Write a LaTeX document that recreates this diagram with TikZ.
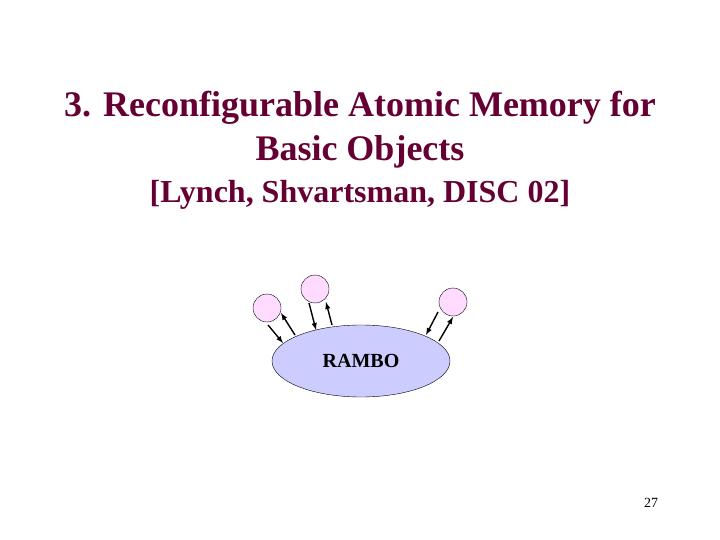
\documentclass[tikz,border=0pt]{standalone}
\usepackage{fontspec}
\usetikzlibrary{shapes.geometric}
\setmainfont{Liberation Serif}
\definecolor{titlec}{RGB}{102,0,51}
\definecolor{pinkc}{RGB}{255,220,255}
\definecolor{bluec}{RGB}{204,204,255}
\begin{document}
\begin{tikzpicture}[x=1pt,y=-1pt,
  proc/.style={circle,draw=black,fill=pinkc,minimum size=28pt,inner sep=0pt},
  conn/.style={-latex,line width=1.4pt}]
\useasboundingbox (0,0) rectangle (720,540);
\node[text=titlec,font=\bfseries\fontsize{36}{44}\selectfont,align=center] (title) at (360,130) {3. Reconfigurable Atomic Memory for\\Basic Objects};
\node[text=titlec,font=\bfseries\fontsize{32}{38}\selectfont] (cite) at (360,195) {[Lynch, Shvartsman, DISC 02]};
\node[ellipse,draw=black,fill=bluec,minimum width=178pt,minimum height=72pt] (rambo) at (361,361) {};
\node[font=\bfseries\fontsize{20}{24}\selectfont] (lbl) at (361,361) {RAMBO};
\node[proc] (c1) at (267,308) {};
\node[proc] (c2) at (315,289) {};
\node[proc] (c3) at (453,302) {};
\coordinate (a1) at (268,325); \coordinate (b1) at (283,343);
\coordinate (a2) at (295,335); \coordinate (b2) at (281,313);
\coordinate (a3) at (309,303); \coordinate (b3) at (316,330);
\coordinate (a4) at (332,325); \coordinate (b4) at (326,302);
\coordinate (a5) at (438,312); \coordinate (b5) at (426,335);
\coordinate (a6) at (439,341); \coordinate (b6) at (453,317);
\draw[conn] (a1) -- (b1);
\draw[conn] (a2) -- (b2);
\draw[conn] (a3) -- (b3);
\draw[conn] (a4) -- (b4);
\draw[conn] (a5) -- (b5);
\draw[conn] (a6) -- (b6);
\node[font=\fontsize{14}{16}\selectfont] (pg) at (651,503) {27};
\end{tikzpicture}
\end{document}
